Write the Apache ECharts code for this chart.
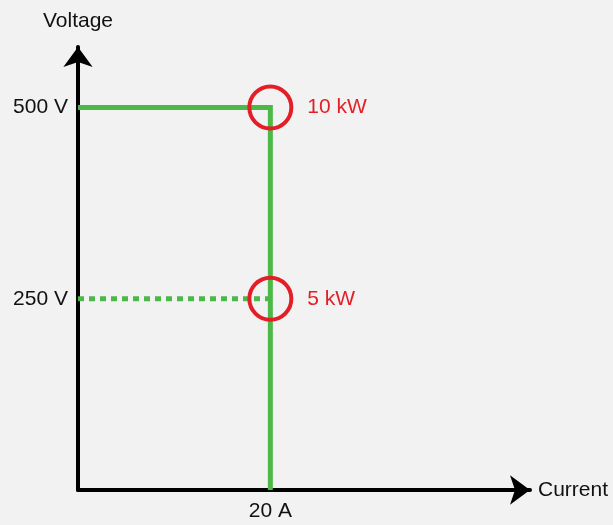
<!DOCTYPE html>
<html>
<head>
	<meta charset="utf-8">
	<title>Voltage / Current</title>
	<script src="https://cdn.jsdelivr.net/npm/echarts@6/dist/echarts.min.js"></script>
	<style>
		html, body { margin: 0; padding: 0; background: #f2f2f2; }
		#box { width: 613px; height: 525px; }
	</style>
</head>
<body>
	<div id="box"></div>
	<script type="text/javascript">
		// 刻度
		var xTicks = [20]
		var yTicks = [250, 500]
		// 实线：500 V 到 20 A，再垂直向下
		var solidLine = [[0, 500], [20, 500], [20, 0]]
		// 虚线：250 V
		var dottedLine = [[0, 250], [20, 250]]
		// 功率点
		var powerPoints = [[20, 500], [20, 250]]
		var powerLabels = ['10 kW', '5 kW']

		var green = '#4cb847'
		var red = '#e41e26'
		var font = 'Liberation Sans, Arial, sans-serif'
		var fs = 21

		var myChart = echarts.init(document.getElementById('box'))

		var option = {
			backgroundColor: '#f2f2f2',
			animation: false,
			grid: { left: 78, right: 83, top: 47, bottom: 35 },
			xAxis: {
				type: 'value',
				min: 0,
				max: 47,
				interval: 20,
				name: 'Current',
				nameLocation: 'end',
				nameGap: 8,
				nameTextStyle: { color: '#111', fontSize: fs, fontFamily: font },
				axisLine: {
					lineStyle: { color: '#000', width: 4 },
					symbol: ['none', 'arrow'],
					symbolSize: [22, 20]
				},
				axisTick: { show: false },
				splitLine: { show: false },
				axisLabel: {
					color: '#111',
					fontSize: fs,
					fontFamily: font,
					margin: 11,
					formatter: function (v) { return xTicks.indexOf(v) >= 0 ? v + ' A' : '' }
				}
			},
			yAxis: {
				type: 'value',
				min: 0,
				max: 579,
				interval: 250,
				name: 'Voltage',
				nameLocation: 'end',
				nameGap: 15,
				nameTextStyle: { color: '#111', fontSize: fs, fontFamily: font, align: 'center' },
				axisLine: {
					lineStyle: { color: '#000', width: 4 },
					symbol: ['none', 'arrow'],
					symbolSize: [22, 20]
				},
				axisTick: { show: false },
				splitLine: { show: false },
				axisLabel: {
					color: '#111',
					fontSize: fs,
					fontFamily: font,
					margin: 10,
					formatter: function (v) { return yTicks.indexOf(v) >= 0 ? v + ' V' : '' }
				}
			},
			series: [
				{
					type: 'line',
					data: solidLine,
					symbol: 'none',
					lineStyle: { color: green, width: 5, join: 'miter' },
					z: 2
				},
				{
					type: 'line',
					data: dottedLine,
					symbol: 'none',
					lineStyle: { color: green, width: 5, type: [6, 5] },
					z: 2
				},
				{
					type: 'scatter',
					data: powerPoints.map(function (p, i) { return { value: p, name: powerLabels[i] } }),
					symbol: 'circle',
					symbolSize: 42,
					itemStyle: { color: 'rgba(0,0,0,0)', borderColor: red, borderWidth: 4, opacity: 1 },
					label: {
						show: true,
						position: 'right',
						distance: 14,
						formatter: '{b}',
						color: red,
						fontSize: fs,
						fontFamily: font
					},
					z: 3
				}
			]
		}

		myChart.setOption(option)
	</script>
</body>
</html>
